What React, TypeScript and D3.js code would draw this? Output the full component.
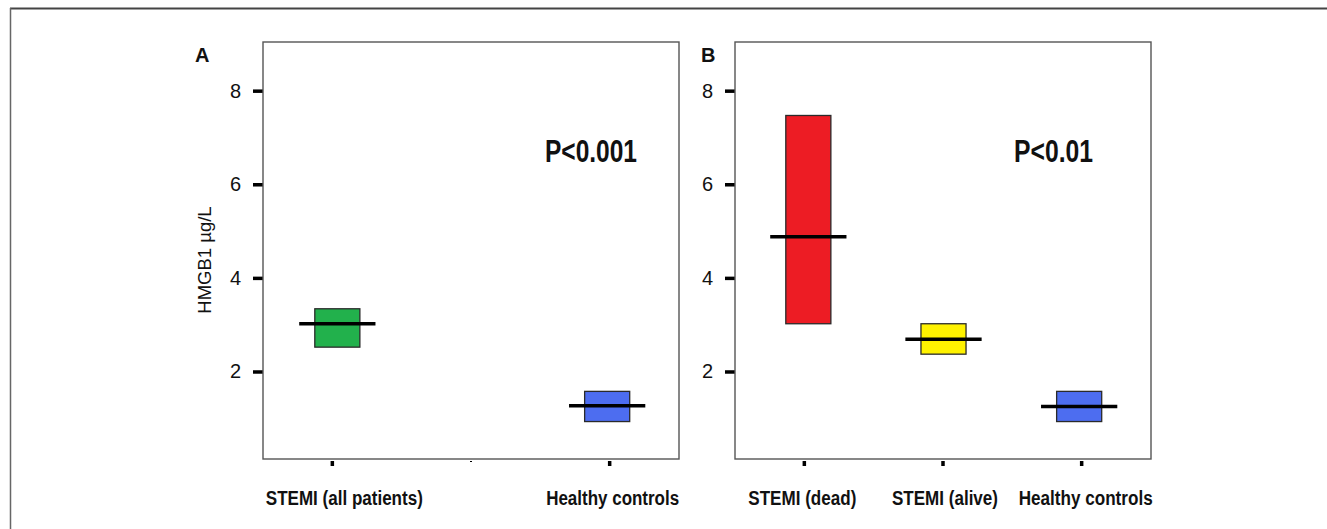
import React, { useRef, useEffect } from "react";
import * as d3 from "d3";

// panel A
const categoriesA = ["STEMI (all patients)", "", "Healthy controls"];
const lowerA = [2.52, NaN, 0.93];
const upperA = [3.34, NaN, 1.575];
const medianA = [3.02, NaN, 1.27];
const colorsA = ["#22b14c", "none", "#4d6df0"];
const labelWidthsA = [157, 0, 133];

// panel B
const categoriesB = ["STEMI (dead)", "STEMI (alive)", "Healthy controls"];
const lowerB = [3.02, 2.37, 0.93];
const upperB = [7.47, 3.02, 1.575];
const medianB = [4.88, 2.69, 1.25];
const colorsB = ["#ed1c24", "#fff200", "#4d6df0"];
const labelWidthsB = [108, 106, 134];

const yTicks = [2, 4, 6, 8];
const yDomain = [0.13, 9.04];

const CONFIG = {
  width: 1327,
  height: 529,
  top: 42,
  bottom: 459,
  font: "'Liberation Sans', Arial, sans-serif",
  frame: "#555",
};

const PANELS = [
  {
    key: "A",
    letterX: 195,
    left: 263,
    right: 679,
    categories: categoriesA,
    lower: lowerA,
    upper: upperA,
    median: medianA,
    colors: colorsA,
    labelWidths: labelWidthsA,
    labelShift: [12, 0, 3],
    boxShift: [5, 0, -2.5],
    pText: "P<0.001",
    pX: 545,
    pWidth: 92,
  },
  {
    key: "B",
    letterX: 701,
    left: 735,
    right: 1151,
    categories: categoriesB,
    lower: lowerB,
    upper: upperB,
    median: medianB,
    colors: colorsB,
    labelWidths: labelWidthsB,
    labelShift: [-2, 2, 4],
    boxShift: [4, 0.5, -2.5],
    pText: "P<0.01",
    pX: 1014,
    pWidth: 79,
  },
];

const App = () => {
  const ref = useRef<SVGSVGElement | null>(null);

  useEffect(() => {
    const svg = d3.select(ref.current);
    svg.selectAll("*").remove();

    // outer figure frame (top and left edges visible)
    svg.append("line").attr("x1", 10).attr("x2", CONFIG.width).attr("y1", 8.5).attr("y2", 8.5)
      .attr("stroke", "#444").attr("stroke-width", 2);
    svg.append("line").attr("x1", 10.5).attr("x2", 10.5).attr("y1", 8).attr("y2", CONFIG.height)
      .attr("stroke", "#666").attr("stroke-width", 1.5);

    const y = d3.scaleLinear().domain(yDomain).range([CONFIG.bottom, CONFIG.top]);

    PANELS.forEach((p) => {
      const idx = p.categories.map((_, i) => i);
      const x = d3.scaleBand<number>().domain(idx).range([p.left, p.right]).padding(0);
      const cx = (i: number) => (x(i) ?? 0) + x.bandwidth() / 2;
      const bx = (i: number) => cx(i) + p.boxShift[i];
      const boxW = x.bandwidth() * 0.325;
      const lineW = x.bandwidth() * 0.55;

      const g = svg.append("g");

      // panel letter
      g.append("text")
        .attr("x", p.letterX)
        .attr("y", 62)
        .attr("font-family", CONFIG.font)
        .attr("font-weight", "bold")
        .attr("font-size", 20)
        .attr("fill", "#111")
        .text(p.key);

      // y axis
      const yAxis = g
        .append("g")
        .attr("transform", `translate(${p.left},0)`)
        .call(d3.axisLeft(y).tickValues(yTicks).tickSize(10).tickPadding(12).tickFormat(d3.format("d")));
      yAxis.select(".domain").remove();
      yAxis.selectAll("line").attr("stroke", "#000").attr("stroke-width", 3.5);
      yAxis.selectAll("text")
        .attr("font-family", CONFIG.font)
        .attr("font-size", 20)
        .attr("fill", "#111");

      // x ticks
      g.selectAll(".xtick")
        .data(idx)
        .join("line")
        .attr("x1", (i) => cx(i))
        .attr("x2", (i) => cx(i))
        .attr("y1", CONFIG.bottom + 2)
        .attr("y2", (i) => CONFIG.bottom + (p.categories[i] ? 7 : 3))
        .attr("stroke", "#000")
        .attr("stroke-width", (i) => (p.categories[i] ? 3.5 : 2));

      // x labels
      g.selectAll(".xlabel")
        .data(idx.filter((i) => p.categories[i]))
        .join("text")
        .attr("x", (i) => cx(i) + p.labelShift[i])
        .attr("y", 505)
        .attr("text-anchor", "middle")
        .attr("font-family", CONFIG.font)
        .attr("font-weight", "bold")
        .attr("font-size", 19.5)
        .attr("fill", "#111")
        .attr("textLength", (i) => p.labelWidths[i])
        .attr("lengthAdjust", "spacingAndGlyphs")
        .text((i) => p.categories[i]);

      // plot frame
      g.append("rect")
        .attr("x", p.left)
        .attr("y", CONFIG.top)
        .attr("width", p.right - p.left)
        .attr("height", CONFIG.bottom - CONFIG.top)
        .attr("fill", "none")
        .attr("stroke", CONFIG.frame)
        .attr("stroke-width", 1.4);

      const valid = idx.filter((i) => !isNaN(p.median[i]));

      // boxes
      g.selectAll(".box")
        .data(valid)
        .join("rect")
        .attr("x", (i) => bx(i) - boxW / 2)
        .attr("y", (i) => y(p.upper[i]))
        .attr("width", boxW)
        .attr("height", (i) => y(p.lower[i]) - y(p.upper[i]))
        .attr("fill", (i) => p.colors[i])
        .attr("stroke", "#2a2a2a")
        .attr("stroke-width", 1.3);

      // medians
      g.selectAll(".med")
        .data(valid)
        .join("line")
        .attr("x1", (i) => bx(i) - lineW / 2)
        .attr("x2", (i) => bx(i) + lineW / 2)
        .attr("y1", (i) => y(p.median[i]))
        .attr("y2", (i) => y(p.median[i]))
        .attr("stroke", "#000")
        .attr("stroke-width", 3.5);

      // p value
      g.append("text")
        .attr("x", p.pX)
        .attr("y", 162)
        .attr("font-family", CONFIG.font)
        .attr("font-weight", "bold")
        .attr("font-size", 31)
        .attr("fill", "#111")
        .attr("textLength", p.pWidth)
        .attr("lengthAdjust", "spacingAndGlyphs")
        .text(p.pText);
    });

    // y axis title
    svg.append("text")
      .attr("transform", `translate(211,260) rotate(-90)`)
      .attr("text-anchor", "middle")
      .attr("font-family", CONFIG.font)
      .attr("font-size", 18.5)
      .attr("fill", "#111")
      .text("HMGB1 µg/L");
  }, []);

  return (
    <svg
      ref={ref}
      width={CONFIG.width}
      height={CONFIG.height}
      style={{ position: "absolute", left: 0, top: 0, background: "#fff" }}
    />
  );
};

export default App;
